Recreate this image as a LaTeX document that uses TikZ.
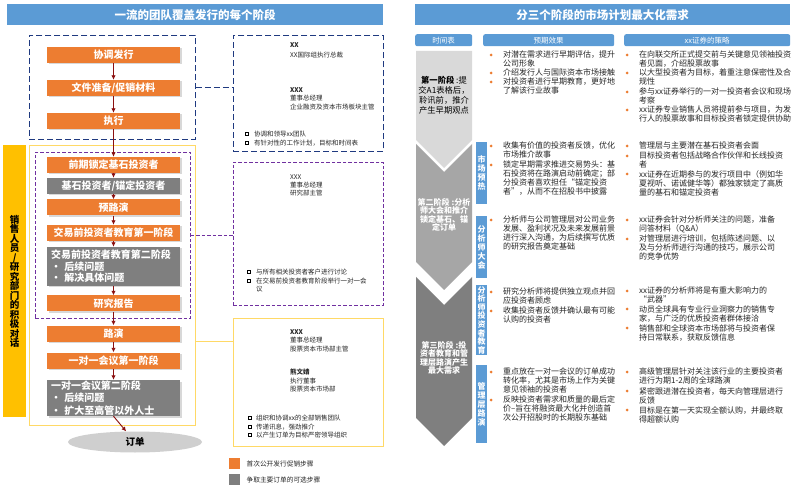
\documentclass[tikz,border=0pt]{standalone}
\usepackage{fontspec}
\setmainfont{Noto Sans CJK SC}
\usetikzlibrary{arrows.meta,positioning,calc,shapes.geometric,shadows}

\definecolor{stepor}{HTML}{ED7D31}
\definecolor{stepgr}{HTML}{7F7F7F}
\definecolor{hdblue}{HTML}{5B9BD5}
\definecolor{navyln}{HTML}{1F3A80}
\definecolor{purpln}{HTML}{7030A0}
\definecolor{goldln}{HTML}{FFD966}
\definecolor{salesye}{HTML}{FFC000}
\definecolor{flowred}{HTML}{8B1010}
\definecolor{phaseA}{HTML}{D9D9D9}
\definecolor{phaseB}{HTML}{A6A6A6}
\definecolor{phaseC}{HTML}{7F7F7F}
\definecolor{ordergr}{HTML}{CFCFCF}
\definecolor{bodytx}{HTML}{262626}

\tikzset{
  titlebar/.style={fill=hdblue, text=white, inner sep=0, minimum height=21pt, anchor=north west,
    font=\fontsize{11.5}{13}\selectfont\bfseries},
  tabbox/.style={fill=hdblue, text=white, rounded corners=2pt, inner sep=0, anchor=north west,
    minimum height=12pt, font=\fontsize{7.5}{9}\selectfont},
  stepbox/.style={fill=stepor, text=white, minimum width=133pt, minimum height=16pt,
    inner sep=0, font=\fontsize{10}{11.5}\selectfont\bfseries,
    drop shadow={shadow xshift=1.5pt, shadow yshift=-1.5pt, opacity=.3}},
  optbox/.style={stepbox, fill=stepgr},
  flow/.style={flowred, line width=.9pt, -{Latex[length=4.5pt,width=4.5pt]}},
  navyframe/.style={draw=navyln, line width=.9pt, dash pattern=on 6pt off 3pt, anchor=north west, inner sep=0},
  purpframe/.style={draw=purpln, line width=.9pt, dash pattern=on 3.5pt off 2pt, anchor=north west, inner sep=0},
  goldframe/.style={draw=goldln, line width=1pt, anchor=north west, inner sep=0},
  infotx/.style={anchor=north west, inner sep=0, align=left, text=bodytx, font=\fontsize{6.5}{8.5}\selectfont},
  sqbul/.style={draw=black, line width=.5pt, fill=white},
  efftx/.style={anchor=north west, inner sep=0, align=left, text=bodytx, font=\fontsize{8}{9}\selectfont},
  bdot/.style={fill=stepor},
  sidelab/.style={fill=hdblue, text=white, anchor=north west, inner sep=0, minimum width=11pt,
    align=center, font=\fontsize{8}{9}\selectfont\bfseries},
  phasetx/.style={align=center, inner sep=0},
  legtx/.style={inner sep=0, text=bodytx, font=\fontsize{6.7}{8}\selectfont}
}

\begin{document}
\begin{tikzpicture}[x=1pt,y=-1pt]
	\useasboundingbox[fill=white] (0,0) rectangle (793,489);

	% left half: the team
	\node[titlebar, minimum width=376pt] (ltitle) at (7,4) {一流的团队覆盖发行的每个阶段};

	\node[navyframe, minimum width=166pt, minimum height=104pt] (frexec) at (29,35) {};
	\node[goldframe, minimum width=166pt, minimum height=280pt] (frsales) at (29,145) {};
	\node[purpframe, minimum width=155pt, minimum height=166pt] (frresearch) at (35,152) {};

	\node[fill=salesye, minimum width=23pt, minimum height=272pt, anchor=north west, inner sep=0,
		align=center, font=\fontsize{9.5}{9.5}\selectfont\bfseries] (salesbar) at (3,145)
		{销\\售\\人\\员\\/\\研\\究\\部\\门\\的\\积\\极\\对\\话};

	\node[stepbox] (coord) at (113.5,55) {协调发行};
	\node[stepbox] (docs) at (113.5,88) {文件准备/促销材料};
	\node[stepbox] (exec) at (113.5,121) {执行};
	\node[stepbox] (lockin) at (113.5,165) {前期锁定基石投资者};
	\node[optbox] (cornerst) at (113.5,186) {基石投资者/锚定投资者};
	\node[stepbox] (premkt) at (113.5,207.5) {预路演};
	\node[stepbox] (eduone) at (113.5,233) {交易前投资者教育第一阶段};
	\node[optbox, minimum height=39pt, text width=125pt, align=left] (edutwo) at (113.5,266.5)
		{交易前投资者教育第二阶段\\· 后续问题\\· 解决具体问题};
	\node[stepbox] (report) at (113.5,303.5) {研究报告};
	\node[stepbox] (roadsh) at (113.5,333.5) {路演};
	\node[stepbox] (mtgone) at (113.5,360.5) {一对一会议第一阶段};
	\node[optbox, minimum height=36pt, text width=125pt, align=left,
		font=\fontsize{10}{12.5}\selectfont\bfseries] (mtgtwo) at (113.5,398)
		{一对一会议第二阶段\\· 后续问题\\· 扩大至高管以外人士};
	\node[ellipse, fill=ordergr, minimum width=134pt, minimum height=21pt, inner sep=0,
		font=\fontsize{9.5}{11}\selectfont\bfseries] (order) at (135,442) {订单};

	\foreach \a/\b in {coord/docs, docs/exec, exec/lockin, lockin/cornerst, cornerst/premkt,
		premkt/eduone, eduone/edutwo, edutwo/report, report/roadsh, roadsh/mtgone, mtgone/mtgtwo}
		\draw[flow] (\a) -- (\b);
	\draw[flow] (mtgtwo.south) -- (order);

	% who does what
	\node[navyframe, minimum width=150pt, minimum height=116pt] (inexec) at (233,35) {};
	\node[purpframe, minimum width=150pt, minimum height=143pt] (inresearch) at (233,162) {};
	\node[goldframe, minimum width=150pt, minimum height=128pt] (insales) at (233,318) {};
	\draw[navyln, line width=.9pt, dash pattern=on 6pt off 3pt] (frexec.east) -- (frexec.east -| inexec.west);
	\draw[purpln, line width=.9pt, dash pattern=on 3.5pt off 2pt] (frresearch.east) -- (frresearch.east -| inresearch.west);
	\coordinate (salesout) at (frsales.east |- 0,341);
	\draw[goldln, line width=1pt] (salesout) -- (salesout -| insales.west);

	\node[infotx, font=\fontsize{6.5}{10}\selectfont] (pA) at (290,42) {\textbf{XX}\\XX国际组执行总裁};
	\node[infotx] (pB) at (290,87) {\textbf{XXX}\\董事总经理\\企业融资及资本市场板块主管};
	\node[infotx] (tasksA) at (254,131) {协调和领导xx团队\\有针对性的工作计划，目标和时间表};
	\foreach \y in {134,142.5}
		\draw[sqbul] (245.5,\y-1.5) rectangle +(3,3);

	\node[infotx, font=\fontsize{6.5}{8}\selectfont] (pC) at (290,175) {XXX\\董事总经理\\研究部主管};
	\node[infotx] (tasksB) at (256,269) {与所有相关投资者客户进行讨论\\在交易前投资者教育阶段举行一对一会\\议};
	\foreach \y in {272,280.5}
		\draw[sqbul] (247.5,\y-1.5) rectangle +(3,3);

	\node[infotx] (pD) at (290,329) {\textbf{XXX}\\董事总经理\\股票资本市场部主管};
	\node[infotx] (pE) at (290,369) {\textbf{熊文婧}\\执行董事\\股票资本市场部};
	\node[infotx] (tasksC) at (256,415) {组织和协调xx的全部销售团队\\传递讯息，强劲推介\\以产生订单为目标严密领导组织};
	\foreach \y in {418,426.5,435}
		\draw[sqbul] (248.5,\y-1.5) rectangle +(3,3);

	% legend
	\node[fill=stepor, minimum size=11pt, inner sep=0, anchor=north west] (keyor) at (229,458) {};
	\node[fill=stepgr, minimum size=11pt, inner sep=0, anchor=north west] (keygr) at (229,474) {};
	\node[legtx, right=6pt of keyor] (legor) {首次公开发行促销步骤};
	\node[legtx, right=6pt of keygr] (leggr) {争取主要订单的可选步骤};

	% right half: three phases
	\node[titlebar, minimum width=375pt] (rtitle) at (415,4) {分三个阶段的市场计划最大化需求};
	\node[tabbox, minimum width=57pt] (tabtime) at (415,34) {时间表};
	\node[tabbox, minimum width=131pt] (tabeff) at (483,34) {预期效果};
	\node[tabbox, minimum width=166pt] (tabstr) at (624,34) {xx证券的策略};

	\fill[phaseA] (416,51) -- (472,51) -- (472,140) -- (444,168) -- (416,140) -- cycle;
	\fill[phaseB] (416,144) -- (444,172) -- (472,144) -- (472,262) -- (444,290) -- (416,262) -- cycle;
	\fill[phaseC] (416,277) -- (444,305) -- (472,277) -- (472,418) -- (444,446) -- (416,418) -- cycle;
	\node[phasetx, text=black, font=\fontsize{8.3}{10}\selectfont] (phA) at (444,95)
		{\textbf{第一阶段} :提\\交A1表格后，\\聆讯前，推介\\产生早期观点};
	\node[phasetx, text=white, font=\fontsize{8}{8.3}\selectfont\bfseries] (phB) at (444,215)
		{第二阶段 :分析\\师大会和推介\\锁定基石、锚\\定订单};
	\node[phasetx, text=white, font=\fontsize{8}{8.3}\selectfont\bfseries] (phC) at (444,358)
		{第三阶段 :投\\资者教育和管\\理层路演产生\\最大需求};

	\node[sidelab, minimum height=62pt] (lbwarm) at (476,142) {市\\场\\预\\热};
	\node[sidelab, minimum height=62pt] (lbana) at (476,216) {分\\析\\师\\大\\会};
	\node[sidelab, minimum height=70pt, font=\fontsize{8}{8.6}\selectfont\bfseries] (lbedu) at (476,285) {分\\析\\师\\投\\资\\者\\教\\育};
	\node[sidelab, minimum height=78pt] (lbroad) at (476,365) {管\\理\\层\\路\\演};

	% expected effects
	\node[efftx] (eA1) at (503,51) {对潜在需求进行早期评估，提升\\公司形象};
	\node[efftx] (eA2) at (503,69) {介绍发行人与国际资本市场接触};
	\node[efftx] (eA3) at (503,78) {对投资者进行早期教育，更好地\\了解该行业故事};
	\node[efftx] (eB1) at (503,142) {收集有价值的投资者反馈，优化\\市场推介故事};
	\node[efftx] (eB2) at (503,161) {锁定早期需求推进交易势头：基\\石投资将在路演启动前确定；部\\分投资者喜欢担任“锚定投资\\者”，从而不在招股书中披露};
	\node[efftx] (eC1) at (503,216) {分析师与公司管理层对公司业务\\发展、盈利状况及未来发展前景\\进行深入沟通，为后续撰写优质\\的研究报告奠定基础};
	\node[efftx] (eD1) at (503,288) {研究分析师将提供独立观点并回\\应投资者顾虑};
	\node[efftx] (eD2) at (503,307) {收集投资者反馈并确认最有可能\\认购的投资者};
	\node[efftx] (eE1) at (503,368) {重点放在一对一会议的订单成功\\转化率，尤其是市场上作为关键\\意见领袖的投资者};
	\node[efftx] (eE2) at (503,396) {反映投资者需求和质量的最后定\\价–旨在将融资最大化并创造首\\次公开招股时的长期股东基础};
	\foreach \y in {55,73,82,146,165,220,292,311,372,400}
		\fill[bdot] (491,\y) circle (1.5pt);

	% strategy
	\node[efftx] (sA1) at (639,51) {在向联交所正式提交前与关键意见领袖投资\\者见面，介绍股票故事};
	\node[efftx] (sA2) at (639,69) {以大型投资者为目标，着重注意保密性及合\\规性};
	\node[efftx] (sA3) at (639,88) {参与xx证券举行的一对一投资者会议和现场\\考察};
	\node[efftx] (sA4) at (639,106) {xx证券专业销售人员将提前参与项目，为发\\行人的股票故事和目标投资者锁定提供协助};
	\node[efftx] (sB1) at (639,142) {管理层与主要潜在基石投资者会面};
	\node[efftx] (sB2) at (639,152) {目标投资者包括战略合作伙伴和长线投资\\者};
	\node[efftx] (sB3) at (639,170) {xx证券在近期参与的发行项目中（例如华\\夏视听、诺诚健华等）都独家锁定了高质\\量的基石和锚定投资者};
	\node[efftx] (sC1) at (639,216) {xx证券会针对分析师关注的问题，准备\\问答材料（Q\&A）};
	\node[efftx] (sC2) at (639,235) {对管理层进行培训，包括陈述问题、以\\及与分析师进行沟通的技巧，展示公司\\的竞争优势};
	\node[efftx] (sD1) at (639,287) {xx证券的分析师将是有重大影响力的\\“武器”};
	\node[efftx] (sD2) at (639,305) {动员全球具有专业行业洞察力的销售专\\家，与广泛的优质投资者群体接洽};
	\node[efftx] (sD3) at (639,324) {销售部和全球资本市场部将与投资者保\\持日常联系，获取反馈信息};
	\node[efftx] (sE1) at (639,368) {高级管理层针对关注该行业的主要投资者\\进行为期1-2周的全球路演};
	\node[efftx] (sE2) at (639,387) {紧密跟进潜在投资者，每天向管理层进行\\反馈};
	\node[efftx] (sE3) at (639,406) {目标是在第一天实现全额认购，并最终取\\得超额认购};
	\foreach \y in {55,73,92,110,146,156,174,220,239,291,309,328,372,391,410}
		\fill[bdot] (627,\y) circle (1.5pt);
\end{tikzpicture}
\end{document}
